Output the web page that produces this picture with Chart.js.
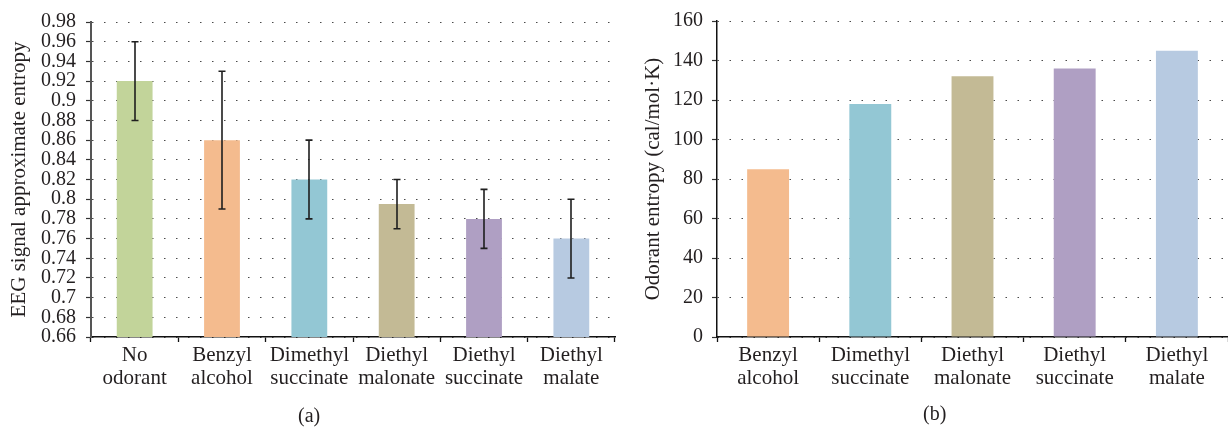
<!DOCTYPE html>
<html>
<head>
<meta charset="utf-8">
<script src="https://cdn.jsdelivr.net/npm/chart.js@4.4.1/dist/chart.umd.min.js"></script>
<style>
  html, body { margin: 0; padding: 0; background: #fff; }
  body { width: 1228px; height: 430px; position: relative; overflow: hidden; font-family: 'Liberation Serif', 'DejaVu Serif', serif; }
  .box { position: absolute; top: 0; height: 430px; }
  #boxA { left: 0; width: 625px; }
  #boxB { left: 625px; width: 603px; }
  .cap { position: absolute; font-size: 20px; color: #231f20; line-height: 1; }
</style>
</head>
<body>
<div class="box" id="boxA"><canvas id="chartA"></canvas></div>
<div class="box" id="boxB"><canvas id="chartB"></canvas></div>
<div class="cap" style="left:298px; top:405px;">(a)</div>
<div class="cap" style="left:923px; top:403px;">(b)</div>
<script>
// (a) EEG approximate entropy per odorant
var eegLabels = [["No", "odorant"], ["Benzyl", "alcohol"], ["Dimethyl", "succinate"], ["Diethyl", "malonate"], ["Diethyl", "succinate"], ["Diethyl", "malate"]];
var eegValues = [0.92, 0.86, 0.82, 0.795, 0.78, 0.76];
var eegErrLow = [0.88, 0.79, 0.78, 0.77, 0.75, 0.72];
var eegErrHigh = [0.96, 0.93, 0.86, 0.82, 0.81, 0.80];
var eegColors = ['#c2d49a', '#f4bb8e', '#93c7d4', '#c3ba95', '#af9fc3', '#b7cae1'];

// (b) odorant entropy
var odorLabels = [["Benzyl", "alcohol"], ["Dimethyl", "succinate"], ["Diethyl", "malonate"], ["Diethyl", "succinate"], ["Diethyl", "malate"]];
var odorValues = [85, 118, 132, 136, 145];
var odorColors = ['#f4bb8e', '#93c7d4', '#c3ba95', '#af9fc3', '#b7cae1'];

Chart.defaults.font.family = "'Liberation Serif', 'DejaVu Serif', serif";
Chart.defaults.color = '#231f20';
Chart.defaults.animation = false;

// draws whiskers from the y scale
var errorBars = {
    id: 'errorBars',
    afterDatasetsDraw: function(chart, args, opts) {
        if (!opts.low) return;
        var ctx = chart.ctx;
        var yScale = chart.scales.y;
        var meta = chart.getDatasetMeta(0);
        ctx.save();
        ctx.strokeStyle = '#1f1f1f';
        ctx.lineWidth = 1.6;
        meta.data.forEach(function(bar, i) {
            var x = Math.round(bar.x);
            var top = yScale.getPixelForValue(opts.high[i]);
            var bot = yScale.getPixelForValue(opts.low[i]);
            ctx.beginPath();
            ctx.moveTo(x, top); ctx.lineTo(x, bot);
            ctx.moveTo(x - 3.5, top); ctx.lineTo(x + 3.5, top);
            ctx.moveTo(x - 3.5, bot); ctx.lineTo(x + 3.5, bot);
            ctx.stroke();
        });
        ctx.restore();
    }
};

function makeChart(id, labels, values, colors, yOpts, yTitle, yWidth, titlePad, tickPad, padRight, err, yBorder) {
    var ctx = document.getElementById(id).getContext('2d');
    return new Chart(ctx, {
        type: 'bar',
        data: {
            labels: labels,
            datasets: [{
                data: values,
                backgroundColor: colors,
                borderWidth: 0,
                barPercentage: 0.41,
                categoryPercentage: 1
            }]
        },
        plugins: [errorBars],
        options: {
            responsive: true,
            maintainAspectRatio: false,
            devicePixelRatio: 1,
            layout: { padding: { top: 17, right: padRight, bottom: 0, left: 0 } },
            plugins: {
                legend: { display: false },
                tooltip: { enabled: false },
                errorBars: err
            },
            scales: {
                x: {
                    afterFit: function(s) { s.height = 93; },
                    grid: { display: true, drawOnChartArea: false, drawTicks: true, tickLength: 5, tickColor: '#111', tickWidth: 1.3, offset: true },
                    border: { display: true, color: '#111', width: 1.5 },
                    ticks: { font: { size: 21, lineHeight: 1.1 }, padding: 2, autoSkip: false, maxRotation: 0, minRotation: 0, color: '#231f20' }
                },
                y: {
                    min: yOpts.min,
                    max: yOpts.max,
                    afterFit: function(s) { s.width = yWidth; },
                    grid: { color: '#4a4a4a', lineWidth: 1, drawTicks: true, tickLength: 5, tickColor: '#333', tickWidth: 1.2 },
                    border: { display: true, color: yBorder.color, width: yBorder.width, dash: [1.5, 10.5] },
                    ticks: {
                        stepSize: yOpts.step,
                        autoSkip: false,
                        padding: tickPad,
                        font: { size: 20 },
                        color: '#231f20',
                        callback: function(v) { return String(+v.toFixed(2)); }
                    },
                    title: {
                        display: true,
                        text: yTitle,
                        font: { size: 21 },
                        color: '#231f20',
                        padding: { top: titlePad, bottom: 0 }
                    }
                }
            }
        }
    });
}

makeChart('chartA', eegLabels, eegValues, eegColors, { min: 0.66, max: 0.98, step: 0.02 },
    'EEG signal approximate entropy', 91, 7, 10, 10, { low: eegErrLow, high: eegErrHigh }, { color: '#555', width: 2 });

makeChart('chartB', odorLabels, odorValues, odorColors, { min: 0, max: 160, step: 20 },
    'Odorant entropy (cal/mol\u00b7K)', 92, 16, 9, 0, {}, { color: '#111', width: 1.5 });
</script>
</body>
</html>
